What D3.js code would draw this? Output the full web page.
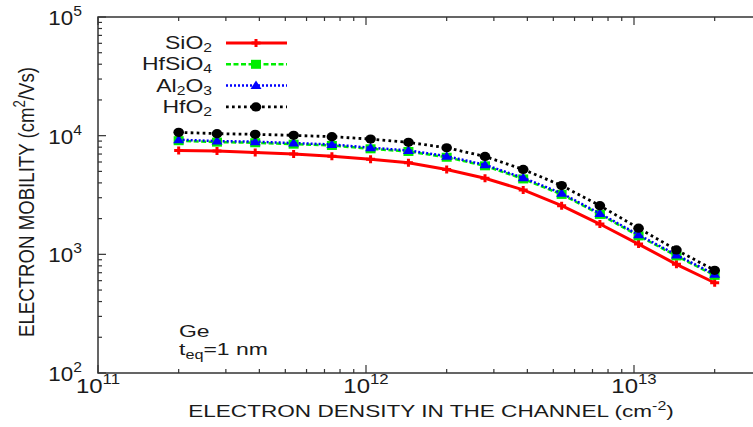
<!DOCTYPE html>
<html>
<head>
<meta charset="utf-8">
<script src="https://cdn.jsdelivr.net/npm/d3@7"></script>
<style>
body { margin: 0; background: #fff; }
text { font-family: "Liberation Sans", Arial, Helvetica, sans-serif; fill: #1a1a1a; }
</style>
</head>
<body>
<svg id="chart" width="753" height="427"></svg>
<script>
// electron density (cm^-2) and mobility (cm^2/Vs)
var density = [2e11, 2.78e11, 3.86e11, 5.37e11, 7.46e11, 1.04e12, 1.44e12, 2e12,
    2.78e12, 3.86e12, 5.37e12, 7.46e12, 1.04e13, 1.44e13, 2e13];
var mu_SiO2   = [7510, 7410, 7220, 6990, 6720, 6340, 5910, 5190, 4380, 3490, 2570, 1800, 1220, 824, 576];
var mu_HfSiO4 = [9070, 8820, 8720, 8480, 8270, 7750, 7360, 6580, 5570, 4320, 3200, 2170, 1430, 970, 665];
var mu_Al2O3  = [9250, 9000, 8900, 8660, 8440, 7910, 7510, 6720, 5680, 4410, 3270, 2210, 1460, 989, 678];
var mu_HfO2   = [10660, 10400, 10260, 10060, 9810, 9360, 8780, 7910, 6680, 5190, 3800, 2570, 1660, 1090, 733];

var xTicks = [1e11, 1e12, 1e13];
var xTickExp = ["11", "12", "13"];
var yTicks = [1e2, 1e3, 1e4, 1e5];
var yTickExp = ["2", "3", "4", "5"];

// legend names: [main, subscript, main, subscript]
var names = [["SiO", "2"], ["HfSiO", "4"], ["Al", "2", "O", "3"], ["HfO", "2"]];

var series = [
    {name: names[0], values: mu_SiO2, color: "#ff0000", dash: null, width: 3, marker: "plus"},
    {name: names[1], values: mu_HfSiO4, color: "#00ee00", dash: "5,2.5", width: 2.5, marker: "square"},
    {name: names[2], values: mu_Al2O3, color: "#0000ff", dash: "2,2", width: 2.5, marker: "triangle"},
    {name: names[3], values: mu_HfO2, color: "#000000", dash: "2.7,3.3", width: 2.8, marker: "circle"}
];

var plotLeft = 98, plotTop = 17, plotBottom = 373;
var decade = 268;

var svg = d3.select("#chart");

var x = d3.scaleLog().domain([1e11, 3e13]).range([plotLeft, plotLeft + decade * Math.log10(300)]);
var y = d3.scaleLog().domain([1e2, 1e5]).range([plotBottom, plotTop]);
var plotRight = x.range()[1];

// ticks
var minorX = [], minorY = [];
[1e11, 1e12, 1e13].forEach(function(b) {
    for (var k = 2; k <= 9; k++) minorX.push(b * k);
});
[1e2, 1e3, 1e4].forEach(function(b) {
    for (var k = 2; k <= 9; k++) minorY.push(b * k);
});
minorX = minorX.filter(function(v) { return v <= 3e13; });

var axisColor = "#333";
var g = svg.append("g").attr("class", "axes");

function tickLine(x1, y1, x2, y2) {
    g.append("line").attr("x1", x1).attr("y1", y1).attr("x2", x2).attr("y2", y2)
        .attr("stroke", axisColor).attr("stroke-width", 1.2);
}
xTicks.forEach(function(v) {
    tickLine(x(v), plotBottom, x(v), plotBottom - 8);
    tickLine(x(v), plotTop, x(v), plotTop + 8);
});
minorX.forEach(function(v) {
    tickLine(x(v), plotBottom, x(v), plotBottom - 4);
    tickLine(x(v), plotTop, x(v), plotTop + 4);
});
yTicks.forEach(function(v) {
    tickLine(plotLeft, y(v), plotLeft + 8, y(v));
});
minorY.forEach(function(v) {
    tickLine(plotLeft, y(v), plotLeft + 4, y(v));
});

g.append("rect").attr("x", plotLeft).attr("y", plotTop)
    .attr("width", plotRight - plotLeft).attr("height", plotBottom - plotTop)
    .attr("fill", "none").attr("stroke", axisColor).attr("stroke-width", 1.5);

// tick labels (the figure's glyphs are a bit wide)
function powerLabel(px, py, exp, anchor, wide) {
    var t = svg.append("text").attr("text-anchor", anchor).style("font-size", "20px")
        .attr("transform", "translate(" + px + "," + py + ") scale(" + wide + ",1)");
    t.append("tspan").text("10");
    t.append("tspan").attr("dy", -9).style("font-size", "14px").text(exp);
    return t;
}
xTicks.forEach(function(v, i) {
    powerLabel(x(v), 393, xTickExp[i], "middle", 1.2);
});
yTicks.forEach(function(v, i) {
    powerLabel(82, y(v) + 8, yTickExp[i], "end", 1.12);
});

// axis titles
function stretchTo(sel, w) {
    var bw = sel.node().getBBox().width;
    return bw > 0 ? w / bw : 1;
}

var xt = svg.append("text").attr("text-anchor", "middle").style("font-size", "17px");
xt.append("tspan").text("ELECTRON DENSITY IN THE CHANNEL (cm");
xt.append("tspan").attr("dy", -7).style("font-size", "12px").text("-2");
xt.append("tspan").attr("dy", 7).text(")");
var sx = stretchTo(xt, 486);
xt.attr("transform", "translate(431,417) scale(" + sx + ",1)");

var yt = svg.append("text").attr("text-anchor", "middle").style("font-size", "17px");
yt.append("tspan").text("ELECTRON MOBILITY (cm");
yt.append("tspan").attr("dy", -7).style("font-size", "12px").text("2");
yt.append("tspan").attr("dy", 7).text("/Vs)");
var sy = stretchTo(yt, 270);
yt.attr("transform", "translate(34,202) rotate(-90) scale(" + sy + ",1.3)");

// annotation, glyphs are drawn wide in the figure
var ge = svg.append("text").style("font-size", "17px").text("Ge");
var te = svg.append("text").style("font-size", "17px");
te.append("tspan").text("t");
te.append("tspan").attr("dy", 4).style("font-size", "12px").text("eq");
te.append("tspan").attr("dy", -4).text("=1 nm");
var sa = stretchTo(te, 89);
ge.attr("transform", "translate(179,337) scale(" + sa + ",1)");
te.attr("transform", "translate(179,355) scale(" + sa + ",1)");

// markers
function drawMarker(parent, m, cx, cy, color) {
    if (m == "plus") {
        parent.append("path")
            .attr("d", "M" + (cx - 4.5) + "," + cy + "H" + (cx + 4.5) + "M" + cx + "," + (cy - 4) + "V" + (cy + 4))
            .attr("stroke", color).attr("stroke-width", 3).attr("fill", "none");
    } else if (m == "square") {
        parent.append("rect").attr("x", cx - 5).attr("y", cy - 4.5)
            .attr("width", 10).attr("height", 9).attr("fill", color);
    } else if (m == "triangle") {
        parent.append("path")
            .attr("d", "M" + cx + "," + (cy - 5) + "L" + (cx + 5.5) + "," + (cy + 3.5) + "L" + (cx - 5.5) + "," + (cy + 3.5) + "Z")
            .attr("fill", color);
    } else {
        parent.append("ellipse").attr("cx", cx).attr("cy", cy)
            .attr("rx", 5.3).attr("ry", 4.6).attr("fill", color);
    }
}

var line = d3.line()
    .x(function(d) { return x(d[0]); })
    .y(function(d) { return y(d[1]); });

var plot = svg.append("g").attr("class", "plot");
series.forEach(function(s) {
    var pts = density.map(function(d, i) { return [d, s.values[i]]; });
    var gs = plot.append("g");
    gs.append("path").datum(pts)
        .attr("d", line)
        .attr("fill", "none")
        .attr("stroke", s.color)
        .attr("stroke-width", s.width)
        .attr("stroke-dasharray", s.dash);
    pts.forEach(function(p) {
        drawMarker(gs, s.marker, x(p[0]), y(p[1]), s.color);
    });
});

// legend
var legend = svg.append("g").attr("class", "legend");
var legendTexts = [];
series.forEach(function(s, i) {
    var ly = 43 + i * 21.3;
    var t = legend.append("text").attr("text-anchor", "end").style("font-size", "19px");
    s.name.forEach(function(part, j) {
        if (j % 2 == 0) {
            t.append("tspan").attr("dy", j == 0 ? 0 : -3).style("font-size", "19px").text(part);
        } else {
            t.append("tspan").attr("dy", 3).style("font-size", "13px").text(part);
        }
    });
    legendTexts.push([t, ly]);
    legend.append("line").attr("x1", 226).attr("x2", 287).attr("y1", ly).attr("y2", ly)
        .attr("stroke", s.color).attr("stroke-width", s.width)
        .attr("stroke-dasharray", s.dash);
    drawMarker(legend, s.marker, 256, ly, s.color);
});
var sl = stretchTo(legendTexts[1][0], 70);
legendTexts.forEach(function(d) {
    d[0].attr("transform", "translate(212," + (d[1] + 6) + ") scale(" + sl + ",1)");
});
</script>
</body>
</html>
